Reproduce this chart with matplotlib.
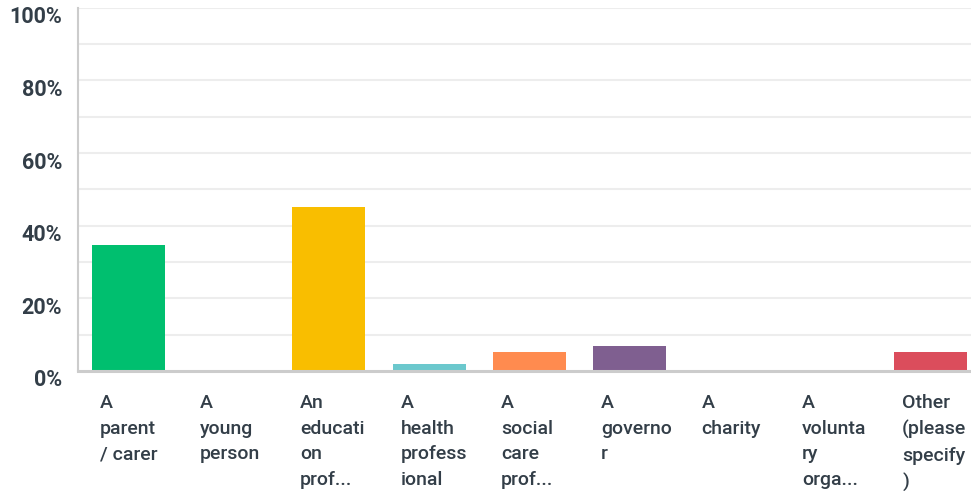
import matplotlib.pyplot as plt
from matplotlib.transforms import blended_transform_factory, ScaledTranslation

categories = [
    "A\nparent\n/ carer",
    "A\nyoung\nperson",
    "An\neducati\non\nprof...",
    "A\nhealth\nprofess\nional",
    "A\nsocial\ncare\nprof...",
    "A\ngoverno\nr",
    "A\ncharity",
    "A\nvolunta\nry\norga...",
    "Other\n(please\nspecify\n)",
]
values = [34.7, 0, 45.1, 1.9, 5.2, 6.9, 0, 0, 5.2]
colors = ["#00bf6f", "#507cb6", "#f9be00", "#6bc8cd", "#ff8b4f",
          "#7f5f90", "#d25f90", "#8ab844", "#db4d5c"]
y_ticks = [0, 20, 40, 60, 80, 100]

plt.rcParams['font.family'] = ['Roboto', 'DejaVu Sans']
W, H = 971, 491
fig = plt.figure(figsize=(W / 100, H / 100), dpi=100)

# axes placed in pixel units; it runs a little past the right edge like the original
left, right, top, bottom = 78, 981, 7.7, 371
ax = fig.add_axes([left / W, 1 - bottom / H, (right - left) / W, (bottom - top) / H])

x = list(range(len(categories)))
ax.bar(x, values, width=0.73, color=colors, zorder=3)
ax.set_xlim(-0.5, len(categories) - 0.5)
ax.set_ylim(0, 100)

for g in range(10, 101, 10):
    ax.axhline(g, color="#ededed", lw=1.5, zorder=1)

ax.set_yticks(y_ticks)
ax.set_yticklabels([f"{t}%" for t in y_ticks], fontsize=15.5, color="#333e48",
                   fontweight="bold")
ax.tick_params(axis="y", length=0, pad=15)
# y labels sit a bit below their gridlines in the original
shift = ScaledTranslation(5 / 100, -7 / 100, fig.dpi_scale_trans)
for t in ax.get_yticklabels():
    t.set_transform(t.get_transform() + shift)
ax.set_xticks([])

for s in ["top", "right"]:
    ax.spines[s].set_visible(False)
ax.spines["left"].set_color("#cccccc")
ax.spines["left"].set_linewidth(1.5)
ax.spines["bottom"].set_color("#cccccc")
ax.spines["bottom"].set_linewidth(2.2)
ax.spines["bottom"].set_zorder(4)

trans = blended_transform_factory(ax.transData, ax.transAxes)
label_y = -(394 - bottom) / (bottom - top)
for i, lab in enumerate(categories):
    ax.text(i - 0.285, label_y, lab, transform=trans, ha="left", va="top",
            fontsize=14, color="#333e48", linespacing=1.55, fontweight="medium")

fig.savefig("out.png", dpi=100)
